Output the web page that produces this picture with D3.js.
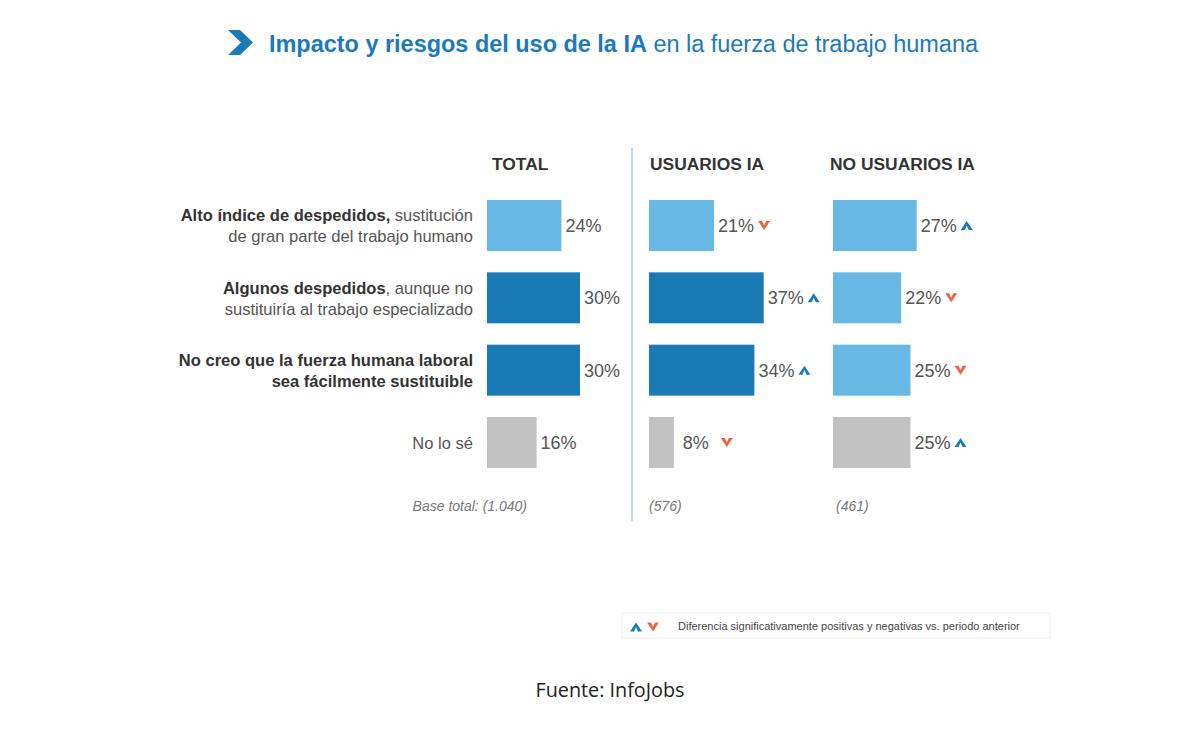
<!DOCTYPE html>
<html><head><meta charset="utf-8">
<script src="https://cdn.jsdelivr.net/npm/d3@7"></script>
<style>
html,body{margin:0;padding:0;background:#fff;}
svg{display:block;font-family:"Liberation Sans",Arial,sans-serif;}
</style></head>
<body><svg id="c" width="1200" height="737"></svg>
<script>
const categories = [
  {bold:"Alto índice de despedidos,", reg:" sustitución", line2:"de gran parte del trabajo humano", line2Bold:false},
  {bold:"Algunos despedidos", reg:", aunque no", line2:"sustituiría al trabajo especializado", line2Bold:false},
  {bold:"No creo que la fuerza humana laboral", reg:"", line2:"sea fácilmente sustituible", line2Bold:true},
  {bold:"", reg:"No lo sé", line2:null, line2Bold:false}
];
const groups = ["TOTAL","USUARIOS IA","NO USUARIOS IA"];
const bases = ["Base total: (1.040)","(576)","(461)"];
const totalValues = [24,30,30,16];
const usuariosValues = [21,37,34,8];
const noUsuariosValues = [27,22,25,25];
const totalShades = ["light","dark","dark","gray"];
const usuariosShades = ["light","dark","dark","gray"];
const noUsuariosShades = ["light","light","light","gray"];
const totalChanges = [null,null,null,null];
const usuariosChanges = ["down","up","up","down"];
const noUsuariosChanges = ["up","down","down","up"];

const colors = {light:"#68b8e5", dark:"#1a7ab5", gray:"#c2c2c2"};
const upColor = "#1a7ab5", downColor = "#f0623e";

const svg = d3.select("#c");

function stext(parent, x, y, sx){
  return parent.append("g").attr("transform",`translate(${x},${y}) scale(${sx},1)`).append("text");
}

// Title
const tg = svg.append("g");
tg.append("path").attr("d","M228,30 L240,30 L253,42.5 L240,55 L228,55 L241,42.5 Z").attr("fill","#1a7ab5");
const tt = stext(tg,269,52,1.02).attr("font-size",23).attr("fill","#1b79c0");
tt.append("tspan").attr("font-weight","bold").text("Impacto y riesgos del uso de la IA");
tt.append("tspan").text(" en la fuerza de trabajo humana");

const series = [
  {vals:totalValues, shades:totalShades, changes:totalChanges, x0:487, hx:492, bx:527, anchor:"end"},
  {vals:usuariosValues, shades:usuariosShades, changes:usuariosChanges, x0:649, hx:650, bx:649, anchor:"start"},
  {vals:noUsuariosValues, shades:noUsuariosShades, changes:noUsuariosChanges, x0:833, hx:830, bx:836, anchor:"start"}
];

const x = d3.scaleLinear().domain([0,100]).range([0,310]);
const y = d3.scaleBand().domain(d3.range(categories.length)).range([200,468]).paddingInner(0.295).paddingOuter(0);

// divider
svg.append("line").attr("x1",632).attr("x2",632).attr("y1",148).attr("y2",521)
  .attr("stroke","#a8cfe9").attr("stroke-width",1.5);

// category labels
const LSX = 1.035;
categories.forEach((c,i)=>{
  const cy = y(i)+y.bandwidth()/2;
  if(c.line2){
    const t1 = stext(svg,473,cy-4,LSX).attr("text-anchor","end").attr("font-size",16).attr("fill","#555");
    if(c.bold) t1.append("tspan").attr("font-weight","bold").attr("fill","#333").text(c.bold);
    if(c.reg) t1.append("tspan").text(c.reg);
    const t2 = stext(svg,473,cy+17,LSX).attr("text-anchor","end").attr("font-size",16).attr("fill","#555").text(c.line2);
    if(c.line2Bold) t2.attr("font-weight","bold").attr("fill","#333");
  } else {
    stext(svg,473,cy+6,LSX).attr("text-anchor","end").attr("font-size",16).attr("fill","#555").text(c.reg);
  }
});

function chevron(g, cx, cy, dir){
  const w=6, h=4.5, th=4;
  let d;
  if(dir==="up") d=`M${cx-w},${cy+h} L${cx},${cy-h} L${cx+w},${cy+h} L${cx+w-th},${cy+h} L${cx},${cy-h+th*1.1} L${cx-w+th},${cy+h} Z`;
  else d=`M${cx-w},${cy-h} L${cx},${cy+h} L${cx+w},${cy-h} L${cx+w-th},${cy-h} L${cx},${cy+h-th*1.1} L${cx-w+th},${cy-h} Z`;
  g.append("path").attr("d",d).attr("fill",dir==="up"?upColor:downColor);
}

series.forEach((s,si)=>{
  svg.append("text").attr("x",s.hx).attr("y",170).attr("font-size",17.4).attr("font-weight","bold")
    .attr("fill","#333").text(groups[si]);
  const g = svg.append("g");
  g.selectAll("rect").data(s.vals).join("rect")
    .attr("x",s.x0).attr("y",(d,i)=>y(i)).attr("width",d=>x(d)).attr("height",y.bandwidth())
    .attr("fill",(d,i)=>colors[s.shades[i]]);
  s.vals.forEach((v,i)=>{
    const cy = y(i)+y.bandwidth()/2;
    const lx = s.x0 + x(v) + (v<10?9:4);
    const t = g.append("text").attr("x",lx).attr("y",cy+6.5).attr("font-size",18).attr("fill","#555").text(v+"%");
    if(s.changes[i]){
      const w = t.node().getComputedTextLength();
      chevron(g, lx + w + (v<10?18:10), cy, s.changes[i]);
    }
  });
  svg.append("text").attr("x",s.bx).attr("y",511).attr("font-size",14).attr("font-style","italic")
    .attr("fill","#777").attr("text-anchor",s.anchor).text(bases[si]);
});

// legend
const lg = svg.append("g");
lg.append("rect").attr("x",622).attr("y",613).attr("width",428).attr("height",25)
  .attr("fill","#fff").attr("stroke","#f0f0f0");
chevron(lg,636,627,"up");
chevron(lg,653,627,"down");
lg.append("text").attr("x",678).attr("y",630).attr("font-size",11).attr("fill","#444")
  .text("Diferencia significativamente positivas y negativas vs. periodo anterior");

// source
svg.append("text").attr("x",610).attr("y",697).attr("text-anchor","middle").attr("font-size",19.8)
  .attr("font-family","'Open Sans', Lato, sans-serif").attr("fill","#222").text("Fuente: InfoJobs");
</script></body></html>
